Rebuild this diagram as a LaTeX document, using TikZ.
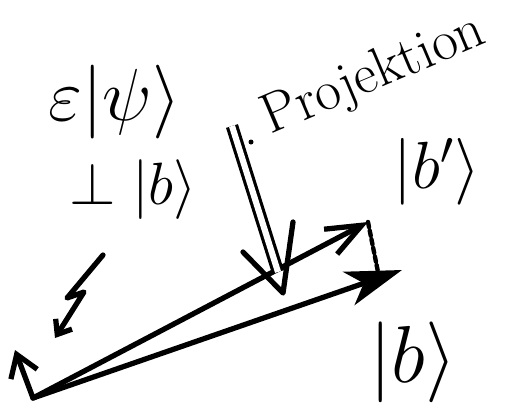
\documentclass[tikz,border=0pt]{standalone}
\usepackage{fix-cm}
\usetikzlibrary{arrows.meta}

\begin{document}
\begin{tikzpicture}[
        x = 0.02cm, y = -0.02cm,
        line cap = round, line join = round,
        every path/.style = {line width = 3pt},
        barb/.style = {-{Straight Barb[length = 20pt, width = 16pt, line width = 3pt]}},
        thickvec/.style = {-{Stealth[length = 32pt, width = 20pt, inset = 9pt]}},
        smallbarb/.style = {-{Straight Barb[length = 12pt, width = 16pt, line width = 3pt]}},
        tinybarb/.style = {-{Straight Barb[length = 7pt, width = 11pt, line width = 3pt]}},
        projshaft/.style = {double, line width = 1.8pt, double distance = 3.5pt, line cap = butt},
        lbl/.style = {inner sep = 0pt}
    ]

      \useasboundingbox (0,0) rectangle (510,407);

      \coordinate (orig) at (33,398);
      \coordinate (bp_tip) at (368,222);
      \coordinate (b_tip) at (402,270);
      \coordinate (perp_tip) at (15,350);
      \coordinate (bp_foot) at (378,272);
      \coordinate (proj_top) at (232,126);
      \coordinate (proj_neck) at (278,272);
      \coordinate (proj_tip) at (283,293);
      \coordinate (proj_l) at (243,252);
      \coordinate (proj_r) at (293,222);
      \coordinate (zz_a) at (103,255);
      \coordinate (zz_b) at (67,298);
      \coordinate (zz_c) at (84,292);
      \coordinate (zz_tip) at (55,338);


      \node[lbl, font = \fontsize{42}{46}\selectfont] (psi) at (115,102) {$\varepsilon|\psi\rangle$};
      \node[lbl, font = \fontsize{34}{38}\selectfont] (perp) at (133,190) {$\perp|b\rangle$};
      \node[lbl, font = \fontsize{38}{42}\selectfont] (bp) at (437,172) {$|b'\rangle$};
      \node[lbl, font = \fontsize{46}{50}\selectfont] (b) at (413,362) {$|b\rangle$};
      \node[lbl, font = \fontsize{32}{36}\selectfont, rotate = 23] (proj) at (374,76) {Projektion};
      \fill (251,142) circle (2.5);


      \path (orig) edge [barb] (bp_tip)
            (orig) edge [thickvec] (b_tip)
            (orig) edge [smallbarb] (perp_tip)
            (bp_tip) edge [dotted, line width = 2.5pt] (bp_foot)
            (proj_top) edge [projshaft] (proj_neck);

      \draw (proj_l) -- (proj_tip) -- (proj_r);
      \draw[tinybarb] (zz_a) -- (zz_b) -- (zz_c) -- (zz_tip);

    \end{tikzpicture}
\end{document}
